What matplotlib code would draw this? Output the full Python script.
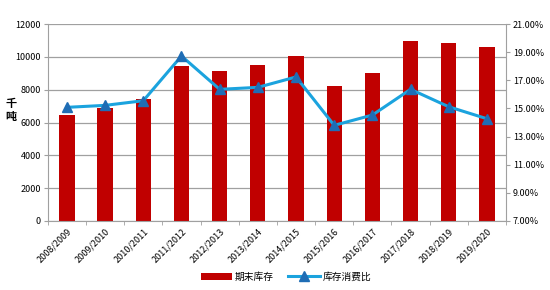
import matplotlib
matplotlib.use("Agg")
import matplotlib.pyplot as plt
from matplotlib.ticker import FuncFormatter, FixedLocator, MultipleLocator
import numpy as np

plt.rcParams['font.family'] = ['Noto Sans CJK SC', 'DejaVu Sans']

years = ["2008/2009", "2009/2010", "2010/2011", "2011/2012", "2012/2013", "2013/2014",
         "2014/2015", "2015/2016", "2016/2017", "2017/2018", "2018/2019", "2019/2020"]
stock = [6450, 6880, 7410, 9440, 9140, 9480, 10070, 8250, 9000, 10980, 10860, 10620]
ratio = [15.08, 15.22, 15.55, 18.73, 16.36, 16.50, 17.24, 13.80, 14.53, 16.36, 15.12, 14.27]
ratio_ticks = [7, 9, 11, 13, 15, 17, 19, 21]

bar_color = "#C00000"
line_color = "#1BA3DE"
marker_color = "#1F6DB5"
grid_color = "#A0A0A0"

fig = plt.figure(figsize=(5.5, 2.9), dpi=100)
ax = fig.add_axes([0.087, 0.238, 0.833, 0.679])
ax2 = ax.twinx()

x = np.arange(len(years))
ax.bar(x, stock, width=0.4, color=bar_color, zorder=2, label="期末库存")
ax.set_ylim(0, 12000)
ax.set_xlim(-0.5, len(years) - 0.5)
ax.yaxis.set_major_locator(MultipleLocator(2000))
ax.grid(axis='y', color=grid_color, linewidth=0.9, zorder=0)
ax.set_axisbelow(True)

ax2.plot(x, ratio, color=line_color, linewidth=2.2, marker='^', markersize=7,
         markerfacecolor=marker_color, markeredgecolor=marker_color, zorder=3, label="库存消费比")
ax2.set_ylim(7, 21)
ax2.yaxis.set_major_locator(FixedLocator(ratio_ticks))
ax2.yaxis.set_major_formatter(FuncFormatter(lambda v, p: f"{v:.2f}%"))

for a in (ax, ax2):
    a.spines['top'].set_visible(False)
    a.spines['left'].set_color(grid_color)
    a.spines['right'].set_color(grid_color)
    a.spines['bottom'].set_color(grid_color)
ax.spines['right'].set_visible(False)
ax2.spines['left'].set_visible(False)
ax2.spines['bottom'].set_visible(False)

ax.tick_params(axis='y', labelsize=6.5, color=grid_color, length=3, pad=2)
ax2.tick_params(axis='y', labelsize=6.5, color=grid_color, length=3, pad=2)

ax.set_xticks(x)
ax.set_xticklabels(years, rotation=45, ha='right', rotation_mode='anchor', fontsize=6.5)
ax.tick_params(axis='x', length=0, pad=4)
ax.set_xticks(np.arange(-0.5, len(years), 1), minor=True)
ax.tick_params(axis='x', which='minor', length=3, color=grid_color)

fig.text(0.02, 0.62, "千\n吨", fontsize=8, fontweight='bold', ha='center', va='center', linespacing=1.0)

h1, l1 = ax.get_legend_handles_labels()
h2, l2 = ax2.get_legend_handles_labels()
fig.legend(h1 + h2, l1 + l2, loc='center', bbox_to_anchor=(0.52, 0.045), ncol=2,
           frameon=False, fontsize=7, handlelength=3.2, handleheight=0.8, columnspacing=1.5,
           handletextpad=0.3)

fig.savefig("out.png", dpi=100)
